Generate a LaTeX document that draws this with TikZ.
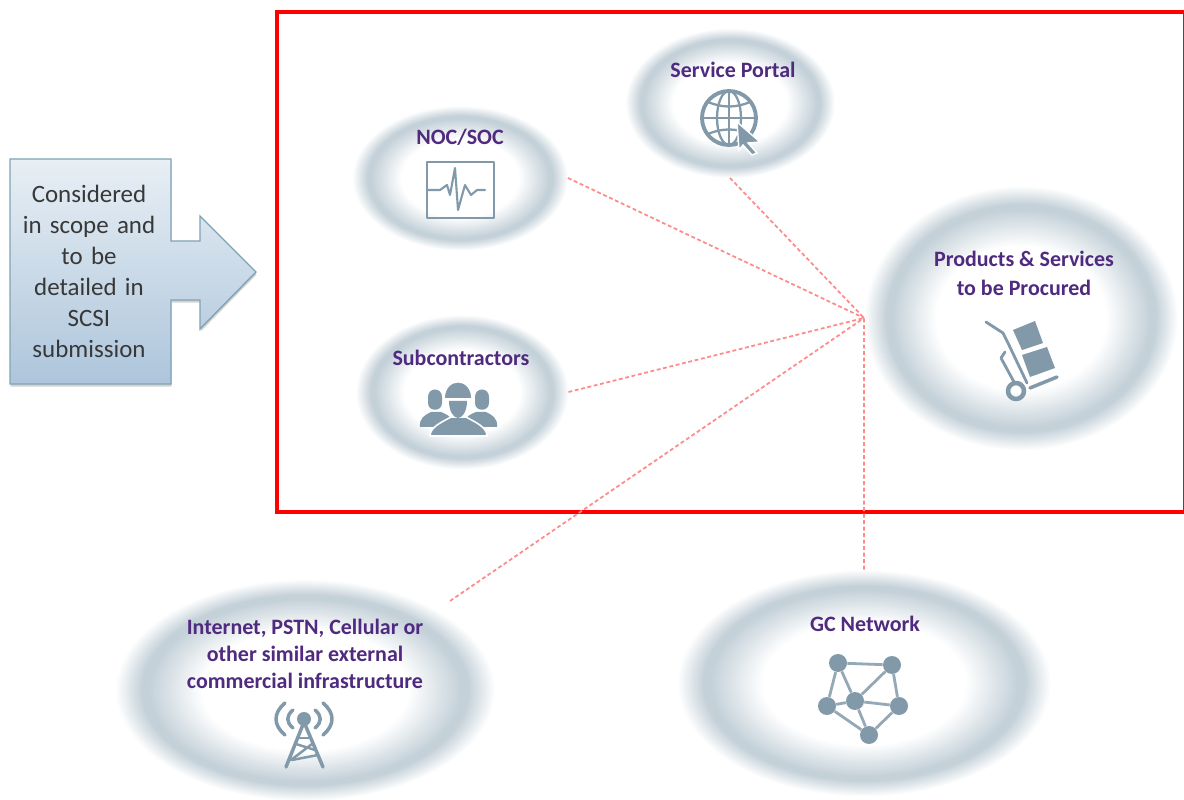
\documentclass[tikz,border=0pt]{standalone}
\usepackage{fontspec}
\setmainfont{Carlito}
\usetikzlibrary{shapes.geometric}
\usetikzlibrary{shadows}
\definecolor{scopered}{HTML}{FF0000}
\definecolor{linkred}{HTML}{FF8A8A}
\definecolor{iconblue}{HTML}{8299A9}
\definecolor{labelpurple}{HTML}{4F2A7F}
\definecolor{noteedge}{HTML}{7FA3B5}
\definecolor{notetop}{HTML}{E8EFF5}
\definecolor{notebottom}{HTML}{ADC5DB}
\pgfdeclareradialshading{ringglow}{\pgfpoint{0bp}{0bp}}{rgb(0bp)=(1,1,1);rgb(13.5bp)=(1,1,1);rgb(20.5bp)=(0.77,0.82,0.85);rgb(21.5bp)=(0.77,0.82,0.85);rgb(25bp)=(1,1,1);rgb(50bp)=(1,1,1)}
\tikzset{
  glow/.style={ellipse, shade, shading=ringglow, inner sep=0pt, outer sep=0pt},
  title/.style={font=\fontsize{12.5}{12.5}\selectfont\bfseries, text=labelpurple, inner sep=0pt},
  link/.style={draw=linkred, line width=1pt, dash pattern=on 2.2pt off 1.5pt},
  icon/.style={draw=iconblue, line width=1.6pt, line cap=round, line join=round},
  solid icon/.style={fill=iconblue},
  netdot/.style={circle, fill=iconblue, inner sep=0pt, minimum size=0.36cm},
}
\begin{document}
\begin{tikzpicture}[x=0.02cm, y=-0.02cm]
    \useasboundingbox (0,0) rectangle (1184,800);

    % Glow ellipses
    \node[glow, minimum width=4.32cm, minimum height=2.9cm] (noc) at (460,178) {};
    \node[glow, minimum width=4.2cm, minimum height=3cm] (portal) at (730,103) {};
    \node[glow, minimum width=4.26cm, minimum height=3.1cm] (subs) at (462,392) {};
    \node[glow, minimum width=6.28cm, minimum height=5.3cm] (products) at (1021,318) {};
    \node[glow, minimum width=7.6cm, minimum height=4.44cm] (internet) at (305,690) {};
    \node[glow, minimum width=7.48cm, minimum height=4.54cm] (gcnet) at (864,683) {};

    % Scope frame
    \draw[scopered, line width=2.2pt] (277,12) rectangle (1185.3,512);

    % Dotted links
    \coordinate (internetend) at (450,601);
    \draw[link] (noc.east) -- (products.west);
    \draw[link] (portal.south) -- (products.west);
    \draw[link] (subs.east) -- (products.west);
    \draw[link] (internetend) -- (products.west);
    \draw[link] (gcnet.north) -- (products.west);

    % Ellipse titles
    \node[title] (noctitle) at (460,137) {NOC/SOC};
    \node[title] (portaltitle) at (733,70) {Service Portal};
    \node[title] (substitle) at (461,358) {Subcontractors};
    \node[title] (prodtitle1) at (1024,259) {Products \& Services};
    \node[title] (prodtitle2) at (1024,288) {to be Procured};
    \node[title] (inettitle1) at (305,628) {Internet, PSTN, Cellular or};
    \node[title] (inettitle2) at (305,654) {other similar external};
    \node[title] (inettitle3) at (305,681) {commercial infrastructure};
    \node[title] (gctitle) at (865,624) {GC Network};

    % Note with arrow
    \draw[draw=noteedge, line width=0.8pt, top color=notetop, bottom color=notebottom,
        drop shadow={shadow xshift=0.3pt, shadow yshift=-1.5pt, opacity=0.35}]
        (10,159) -- (171,159) -- (171,241) -- (200,241) -- (200,216) -- (256,272)
        -- (200,329) -- (200,300) -- (171,300) -- (171,384) -- (10,384) -- cycle;
    \node[font=\fontsize{14.2}{17.6}\selectfont, text=black!78, align=center, text width=3cm, inner sep=0pt] (note) at (89,271.5)
        {Considered\\in scope and\\to be\\detailed in\\SCSI\\submission};

    % NOC icon
    \draw[icon, line cap=butt] (427,162) rectangle (494,218);
    \draw[icon, line width=1.2pt] (427,190) -- (440,190) -- (447,185) -- (450,195) -- (455,168) -- (458,210)
        -- (465,185) -- (471,195) -- (477,190) -- (485,190);

    % Globe icon
    \draw[icon, line width=2.2pt] (729,118) circle (27);
    \draw[icon, line width=1.3pt] (729,118) ellipse (12 and 27);
    \draw[icon, line width=1.3pt] (729,91) -- (729,145);
    \draw[icon, line width=1.3pt] (702,118) -- (756,118);
    \draw[icon, line width=1.3pt] (708,102) .. controls (722,108) and (736,108) .. (750,102);
    \draw[icon, line width=1.3pt] (708,134) .. controls (722,128) and (736,128) .. (750,134);
    \draw[solid icon, draw=white, line width=0.8pt] (737,122) -- (760,142) -- (748,143) -- (757,153) -- (752,155)
        -- (743,145) -- (739,150) -- cycle;

    % Trolley icon
    \fill[iconblue] (1013,330) -- (1035,321) -- (1043,343) -- (1022,350) -- cycle;
    \fill[iconblue] (1022,355) -- (1047,347) -- (1055,368) -- (1030,377) -- cycle;
    \draw[icon] (986,322) -- (1003,333) -- (1008,343) -- (1027,383);
    \draw[icon] (1005,352) -- (1001,358) -- (1014,382);
    \draw[icon, line width=2pt] (1030,388) -- (1057,377);
    \draw[icon, line width=2.6pt, line cap=butt] (1016,391) circle (8);

    % Tower icon
    \fill[iconblue] (304,719) circle (7);
    \draw[icon, line width=2pt] (304,722) -- (286,767);
    \draw[icon, line width=2pt] (304,722) -- (323,767);
    \draw[icon, line width=1.4pt] (296,744) -- (315,750);
    \draw[icon, line width=1.4pt] (312,744) -- (291,760);
    \draw[icon, line width=1.4pt] (298,738) -- (311,738);
    \draw[icon, line width=1.4pt] (292,760) -- (318,755);
    \draw[icon, line width=2pt] (285,703) .. controls (273,713) and (273,725) .. (285,735);
    \draw[icon, line width=2pt] (293,710) .. controls (286,716) and (286,722) .. (293,728);
    \draw[icon, line width=2pt] (323,703) .. controls (335,713) and (335,725) .. (323,735);
    \draw[icon, line width=2pt] (315,710) .. controls (322,716) and (322,722) .. (315,728);

    % Workers icon
    \fill[iconblue] (420,427) .. controls (419,418) and (425,415) .. (431,412) -- (441,412)
        .. controls (446,414) and (450,416) .. (452,420) -- (433,427) -- cycle;
    \fill[iconblue] (497,427) .. controls (498,418) and (492,415) .. (486,412) -- (476,412)
        .. controls (471,414) and (467,416) .. (465,420) -- (484,427) -- cycle;
    \fill[iconblue] (428,397) .. controls (428,387) and (442,387) .. (442,397) -- (442,403)
        .. controls (442,412) and (428,412) .. (428,403) -- cycle;
    \fill[iconblue] (475,397) .. controls (475,387) and (489,387) .. (489,397) -- (489,403)
        .. controls (489,412) and (475,412) .. (475,403) -- cycle;
    \draw[white, line width=0.9pt, fill=iconblue] (430,436) .. controls (430,427) and (442,422) .. (451,417) -- (466,417)
        .. controls (475,422) and (487,427) .. (487,436) -- cycle;
    \draw[white, line width=0.9pt, fill=iconblue] (444,399) .. controls (444,376) and (472,376) .. (472,399) -- cycle;
    \fill[iconblue] (449,401) -- (467,401) .. controls (467,412) and (462,418) .. (458,418) .. controls (454,418) and (449,412) .. (449,401) -- cycle;

    % Network icon
    \node[netdot] (neta) at (838,663) {};
    \node[netdot] (netb) at (892,665) {};
    \node[netdot] (netc) at (827,706) {};
    \node[netdot] (netd) at (855,701) {};
    \node[netdot] (nete) at (899,706) {};
    \node[netdot] (netf) at (869,735) {};
    \foreach \from/\to in {neta/netb, neta/netc, neta/netd, netb/netd, netb/nete, netc/netd, netd/nete, netc/netf, netd/netf, nete/netf}
        \draw[iconblue!85!white, line width=1.6pt] (\from) -- (\to);
\end{tikzpicture}
\end{document}
